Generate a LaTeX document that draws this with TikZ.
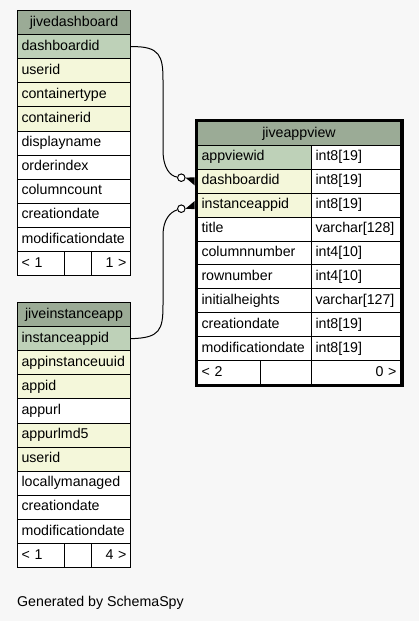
\documentclass[tikz,border=0pt]{standalone}
\usepackage{fontspec}
\setmainfont{Liberation Sans}
\usetikzlibrary{fit}

\definecolor{headcol}{HTML}{9BAB96}
\definecolor{pkcol}{HTML}{BED1B8}
\definecolor{fkcol}{HTML}{F4F7DA}
\definecolor{bgcol}{HTML}{F7F7F7}

\begin{document}
\begin{tikzpicture}[
    x=1pt, y=-1pt,
    font=\fontsize{14.2}{17}\selectfont,
    cell/.style={rectangle, draw, line width=1pt, fill=white, anchor=north west,
        minimum height=24.1pt, inner ysep=0pt, inner xsep=4pt,
        text height=10.2pt, text depth=3pt, align=left},
    head/.style={fill=headcol, align=center},
    pk/.style={fill=pkcol},
    fk/.style={fill=fkcol},
    nokey/.style={},
    wide/.style={minimum width=113pt, text width=105pt},
    row/.style={minimum height=23.9pt},
    rel/.style={line width=1pt},
    odot/.style={circle, draw, fill=white, line width=1pt, inner sep=0pt, minimum size=7.5pt}
]
\useasboundingbox (0,0) rectangle (419,621);
\fill[bgcol] (0,0) rectangle (419,621);

% Рисуем таблицу jivedashboard
\node[cell, head, wide] (JD) at (17,10) {jivedashboard};
\foreach \txt/\kind [count=\i] in {dashboardid/pk, userid/fk, containertype/fk,
    containerid/fk, displayname/nokey, orderindex/nokey, columncount/nokey,
    creationdate/nokey, modificationdate/nokey}
    \node[cell, wide, \kind] (JD\i) at (17,10+24.1*\i) {\txt};
\node[cell, minimum width=47pt, text width=39pt] (JDa) at (17,251) {< 1};
\node[cell, minimum width=27pt, text width=19pt] (JDb) at (64,251) {};
\node[cell, minimum width=39pt, text width=31pt, align=right] (JDc) at (91,251) {1 >};

% Рисуем таблицу jiveinstanceapp
\node[cell, head, wide] (JI) at (17,302) {jiveinstanceapp};
\foreach \txt/\kind [count=\i] in {instanceappid/pk, appinstanceuuid/fk, appid/fk,
    appurl/nokey, appurlmd5/fk, userid/fk, locallymanaged/nokey,
    creationdate/nokey, modificationdate/nokey}
    \node[cell, wide, \kind] (JI\i) at (17,302+24.1*\i) {\txt};
\node[cell, minimum width=47pt, text width=39pt] (JIa) at (17,543) {< 1};
\node[cell, minimum width=27pt, text width=19pt] (JIb) at (64,543) {};
\node[cell, minimum width=39pt, text width=31pt, align=right] (JIc) at (91,543) {4 >};

% Рисуем таблицу jiveappview
\node[cell, head, row, minimum width=203pt, text width=195pt] (AV) at (197,121) {jiveappview};
\foreach \txt/\type/\kind [count=\i] in {appviewid/int8[19]/pk, dashboardid/int8[19]/fk,
    instanceappid/int8[19]/fk, title/varchar[128]/nokey, columnnumber/int4[10]/nokey,
    rownumber/int4[10]/nokey, initialheights/varchar[127]/nokey,
    creationdate/int8[19]/nokey, modificationdate/int8[19]/nokey}
{
    \node[cell, row, \kind, minimum width=114pt, text width=106pt] (AV\i) at (197,121+23.9*\i) {\txt};
    \node[cell, row, minimum width=89pt, text width=81pt] (AT\i) at (311,121+23.9*\i) {\type};
}
\node[cell, row, minimum width=63pt, text width=55pt] (AVa) at (197,360) {< 2};
\node[cell, row, minimum width=51pt, text width=43pt] (AVb) at (260,360) {};
\node[cell, row, minimum width=89pt, text width=81pt, align=right] (AVc) at (311,360) {0 >};
\node[draw, line width=3pt, inner sep=1pt, fit=(AV)(AVc)] (AVbox) {};

% Рисуем связи
\node[odot] (O1) at (181.3,177.7) {};
\node[odot] (O2) at (181.3,208.7) {};
\coordinate (C1) at (AVbox.west |- AV2.west);
\coordinate (C2) at (AVbox.west |- AV3.west);
\draw[rel] (JD1.east) .. controls (160,46) and (163,56) .. (163,80) -- (163,150)
    .. controls (163,168) and (170,176) .. (O1);
\draw[rel] (JI1.east) .. controls (160,338) and (163,330) .. (163,305) -- (163,235)
    .. controls (163,220) and (170,212) .. (O2);
\fill (O1.east) -- ([yshift=4pt]C1) -- ([yshift=-4pt]C1) -- cycle;
\fill (O2.east) -- ([yshift=4pt]C2) -- ([yshift=-4pt]C2) -- cycle;

\node[anchor=base west, inner sep=0pt] (GEN) at (17,606) {Generated by SchemaSpy};
\end{tikzpicture}
\end{document}
